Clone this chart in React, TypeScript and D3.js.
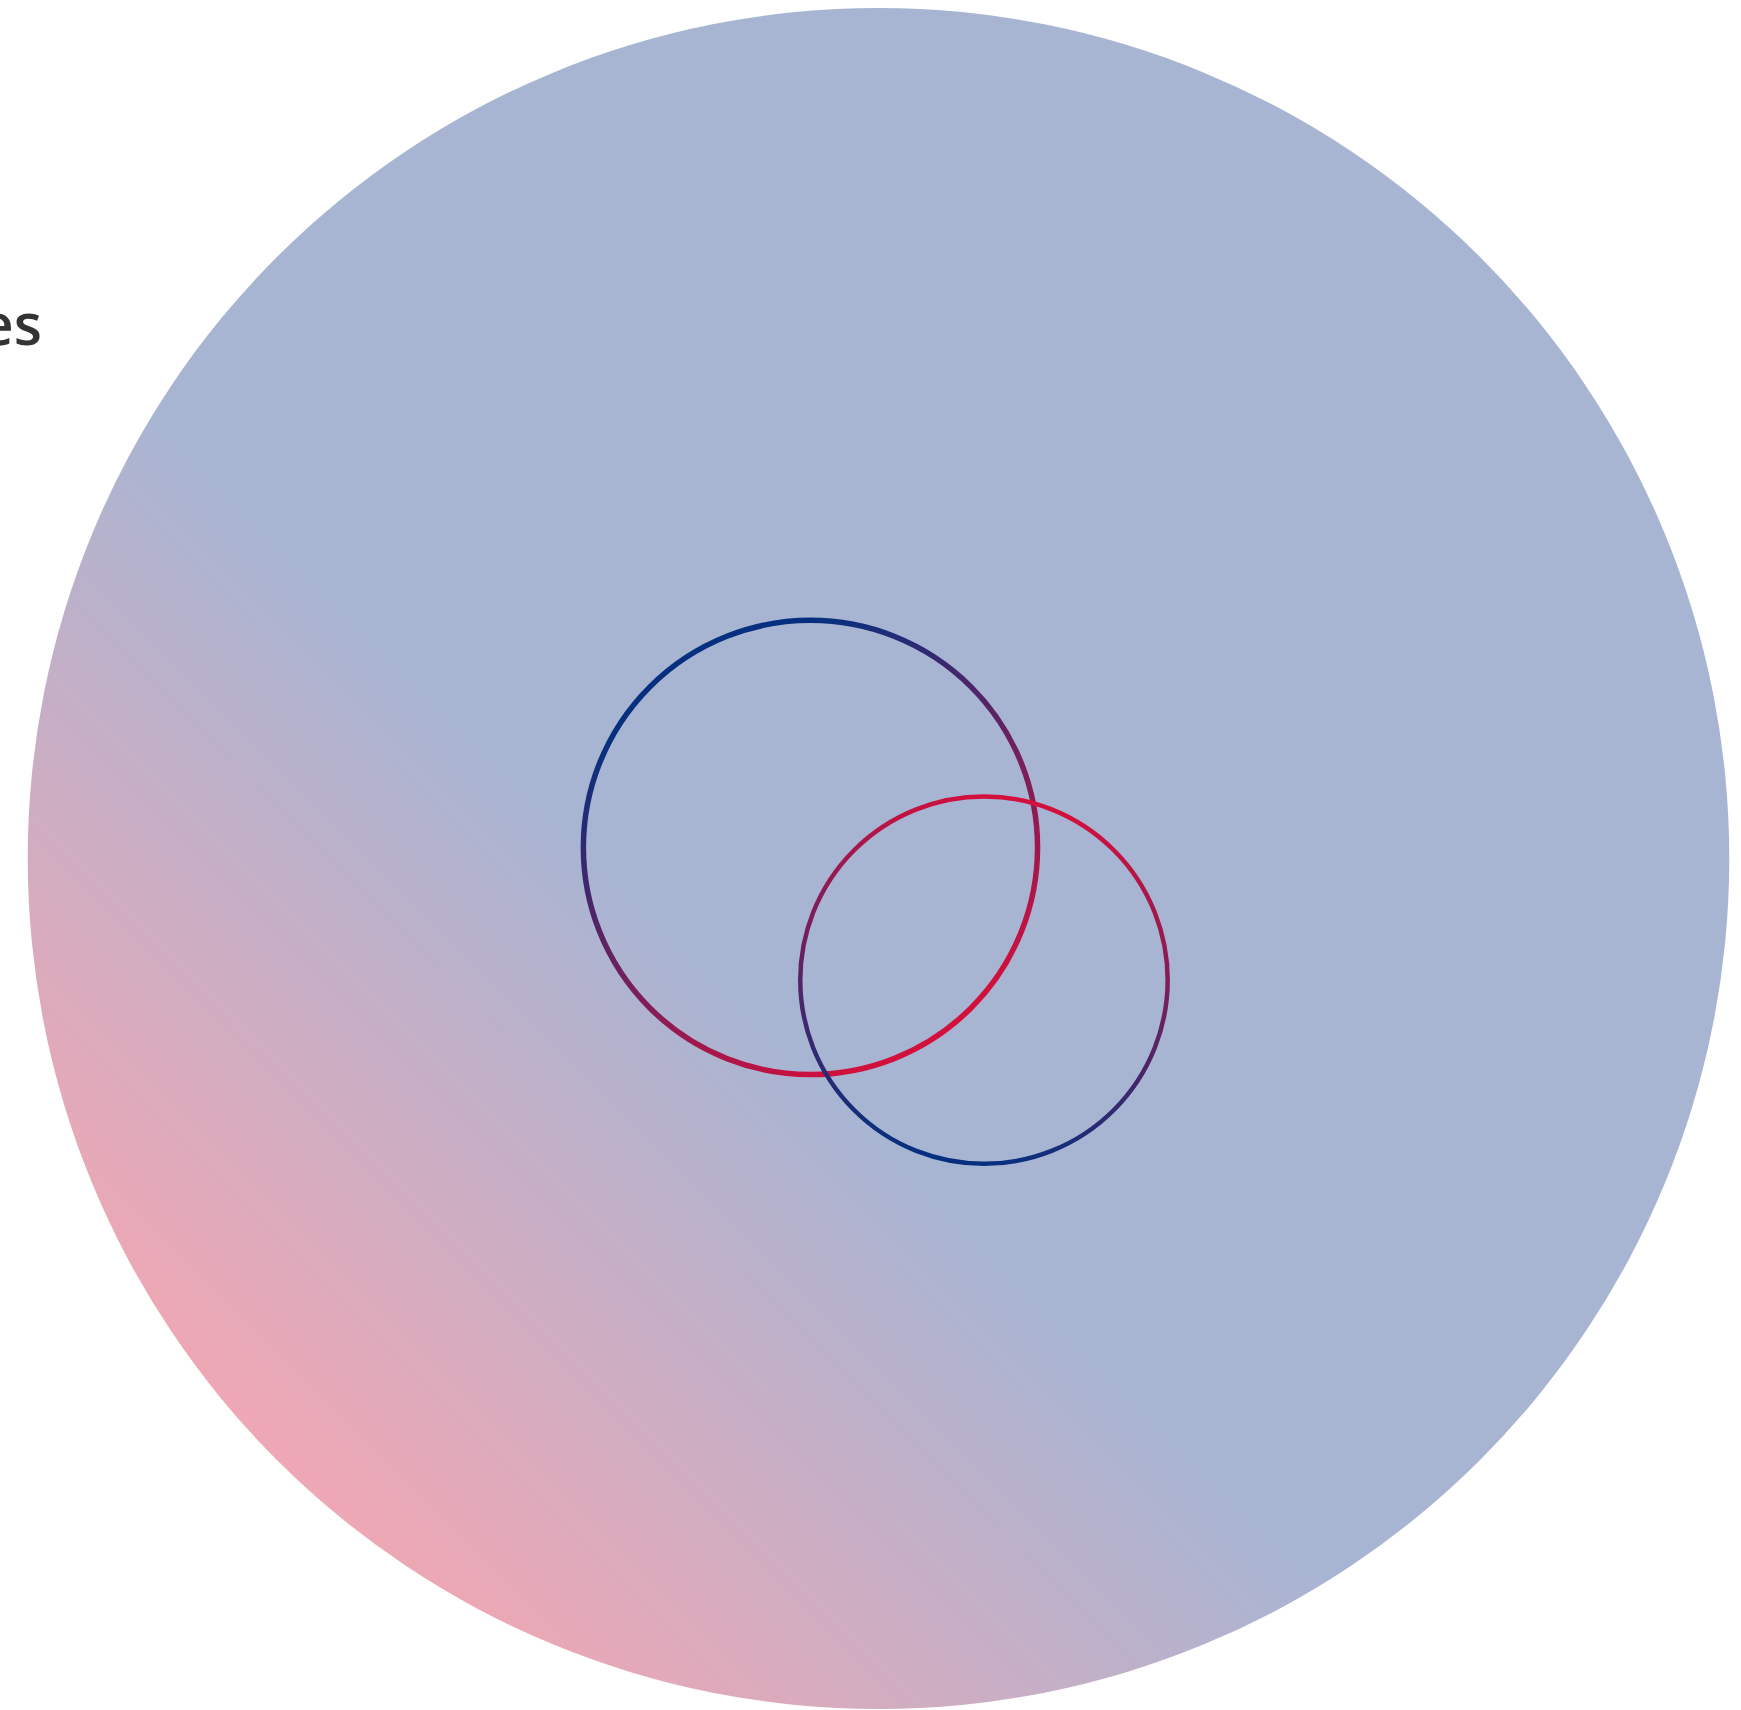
import React from "react";
import * as d3 from "d3";

// Data: two sets drawn inside a unit disk (domain -100..100)
const setNames = ["Set A", "Set B"];
const setCenterX = [-8.0, 12.4];
const setCenterY = [-1.3, 14.3];
const setRadius = [26.7, 21.6];
const titleText = "Categories";

const W = 1741;
const H = 1710;
const CX = 878.5;
const CY = 858.5;
const R = 850.5;

export default function App() {
  const x = d3.scaleLinear().domain([-100, 100]).range([CX - R, CX + R]);
  const y = d3.scaleLinear().domain([-100, 100]).range([CY - R, CY + R]);
  const r = d3.scaleLinear().domain([0, 100]).range([0, R]);

  const disk = d3.arc()({
    innerRadius: 0,
    outerRadius: r(100),
    startAngle: 0,
    endAngle: 2 * Math.PI,
  } as any) as string;

  const grads = [
    { id: "g0", x1: 0.283, y1: 0.126, x2: 0.739, y2: 0.914, from: "#06307f", to: "#d3103c" },
    { id: "g1", x1: 0.404, y1: 0.981, x2: 0.596, y2: 0.019, from: "#06307f", to: "#d3103c" },
  ];
  const widths = [5.5, 4.5];

  return (
    <svg
      width={W}
      height={H}
      style={{ position: "absolute", left: 0, top: 0, display: "block" }}
    >
      <defs>
        <linearGradient id="bg" x1="0" y1="1" x2="1" y2="0">
          <stop offset="0.15" stopColor="#eea7b4" />
          <stop offset="0.42" stopColor="#a7b5d3" />
          <stop offset="1" stopColor="#a7b5d3" />
        </linearGradient>
        {grads.map((g) => (
          <linearGradient key={g.id} id={g.id} x1={g.x1} y1={g.y1} x2={g.x2} y2={g.y2}>
            <stop offset="0" stopColor={g.from} />
            <stop offset="1" stopColor={g.to} />
          </linearGradient>
        ))}
      </defs>
      <path d={disk} transform={`translate(${CX},${CY})`} fill="url(#bg)" />
      {setNames.map((name, i) => (
        <circle
          key={name}
          cx={x(setCenterX[i])}
          cy={y(setCenterY[i])}
          r={r(setRadius[i])}
          fill="none"
          stroke={`url(#g${i})`}
          strokeWidth={widths[i]}
        />
      ))}
      <text
        x={42}
        y={345}
        textAnchor="end"
        fontFamily="'Open Sans', sans-serif"
        fontWeight={600}
        fontSize={58}
        fill="#333"
      >
        {titleText}
      </text>
    </svg>
  );
}
